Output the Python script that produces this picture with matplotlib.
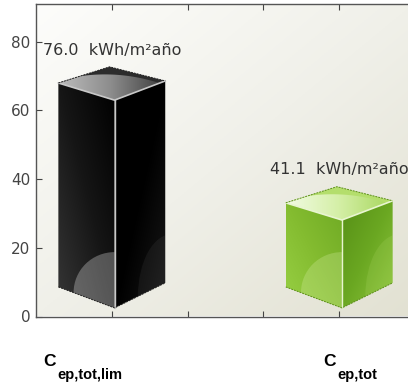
import numpy as np
import matplotlib
matplotlib.use("Agg")
import matplotlib.pyplot as plt
from matplotlib.colors import LinearSegmentedColormap
from matplotlib.patches import Polygon, Ellipse

# data
values = [76.0, 41.1]
positions = [0, 1]
sub_labels = ["ep,tot,lim", "ep,tot"]
unit = "kWh/m²año"
y_ticks = [0, 20, 40, 60, 80]
x_ticks = [0, 1 / 3, 2 / 3, 1]

BLACK = {
    "left": ["#000000", "#161616", "#363636"],
    "right": ["#000000", "#000000", "#181818"],
    "top": ["#bcbcbc", "#8c8c8c", "#3c3c3c"],
    "back": "#2c2c2c", "edge": "#c8c8c8", "rim": "#222222",
    "glow_left": "#ffffff", "glow_left_a": 0.28,
    "glow_right": "#ffffff", "glow_right_a": 0.05,
}
GREEN = {
    "left": ["#6faa24", "#84bc30", "#98d044"],
    "right": ["#568f16", "#6ba822", "#8fc63e"],
    "top": ["#f2fbe4", "#d4efa6", "#a6d65c"],
    "back": "#b4de6c", "edge": "#e8f5d0", "rim": "#5c8f18",
    "glow_left": "#e2f5b4", "glow_left_a": 0.25,
    "glow_right": "#c8ea80", "glow_right_a": 0.14,
}
STYLES = [BLACK, GREEN]

HALF_W = 0.235


def grad_face(ax, pts, colors, z, wx=0.0, wy=0.0):
    # polygon filled with a gradient, wx and wy say how it runs across and down
    pts = np.array(pts)
    cmap = LinearSegmentedColormap.from_list("f", colors)
    gx, gy = np.meshgrid(np.linspace(0, 1, 128), np.linspace(0, 1, 128))
    val = (1 - gx if wx < 0 else gx) * abs(wx) + gy * wy
    img = ax.imshow(val, cmap=cmap, aspect="auto", vmin=0, vmax=1,
                    extent=(pts[:, 0].min(), pts[:, 0].max(), pts[:, 1].min(), pts[:, 1].max()),
                    origin="upper", zorder=z, interpolation="bilinear")
    clip = Polygon(pts, closed=True, transform=ax.transData, fc="none", ec="none")
    ax.add_patch(clip)
    img.set_clip_path(clip)
    return clip


def draw_box(ax, x, v, st):
    xl, xr = x - HALF_W, x + HALF_W
    xf, xb = x + 0.012, x - 0.01
    back = (xb, v - 3.3)
    top_l = (xl, v - 8.0)
    top_r = (xr, v - 7.4)
    front = (xf, v - 13.0)
    bot_l = (xl, 8.6)
    bot_f = (xf, 2.5)
    bot_r = (xr, 9.8)

    left_clip = grad_face(ax, [top_l, front, bot_f, bot_l], st["left"], 3, wx=-0.5, wy=0.5)
    right_clip = grad_face(ax, [front, top_r, bot_r, bot_f], st["right"], 3, wx=0.5, wy=0.5)

    # top face: darker back, light shape with a curved upper side
    ax.add_patch(Polygon([top_l, back, top_r, front], fc=st["back"], ec="none", zorder=3))
    xs = np.linspace(xl, xr, 60)
    upper = np.minimum(np.interp(xs, [xl, xb, xr], [top_l[1], back[1], top_r[1]]),
                       v - 5.5 - 3.2 * ((xs - (x - 0.03)) / 0.27) ** 2)
    upper = np.maximum(upper, np.interp(xs, [xl, xf, xr], [top_l[1], front[1], top_r[1]]))
    lower = np.interp(xs, [xl, xf, xr], [top_l[1], front[1], top_r[1]])
    outline = np.r_[np.c_[xs, upper], np.c_[xs[::-1], lower[::-1]]]
    grad_face(ax, outline, st["top"], 3.1, wx=1.0)

    # rounded glow low on the side faces
    g1 = Ellipse((xf, 7), 0.36, 23.5, fc=st["glow_left"], ec="none",
                 alpha=st["glow_left_a"], zorder=3.2)
    g2 = Ellipse((xr + 0.03, 6), 0.3, 36, fc=st["glow_right"], ec="none",
                 alpha=st["glow_right_a"], zorder=3.2)
    ax.add_patch(g1)
    ax.add_patch(g2)
    g1.set_clip_path(left_clip)
    g2.set_clip_path(right_clip)

    # edges
    ax.plot([top_l[0], front[0], top_r[0]], [top_l[1], front[1], top_r[1]],
            color=st["edge"], lw=1.2, zorder=4, solid_joinstyle="miter")
    ax.plot([front[0], bot_f[0]], [front[1], bot_f[1]], color=st["edge"], lw=1.0, zorder=4)
    ax.plot([top_l[0], back[0], top_r[0]], [top_l[1], back[1], top_r[1]],
            color=st["rim"], lw=0.7, ls=(0, (2, 1)), zorder=4)
    ax.plot([bot_l[0], bot_f[0], bot_r[0]], [bot_l[1], bot_f[1], bot_r[1]],
            color=st["rim"], lw=0.7, ls=(0, (2, 1)), zorder=4)


fig = plt.figure(figsize=(4.08, 3.87), dpi=100, facecolor="white")
ax = fig.add_axes([36 / 408, (387 - 316.5) / 387, 379 / 408, 312.5 / 387])

# background, light in the upper left going beige to the lower right
bg_x, bg_y = np.meshgrid(np.linspace(0, 1, 200), np.linspace(0, 1, 200))
cmap_bg = LinearSegmentedColormap.from_list("bg", ["#fdfdfb", "#f0f0e9", "#e2e1d2"])
ax.imshow((bg_x * 0.5 + bg_y * 0.5), cmap=cmap_bg, aspect="auto", origin="upper",
          extent=(-1 / 3, 4 / 3, 0, 91), zorder=0)

for x, v, st in zip(positions, values, STYLES):
    draw_box(ax, x, v, st)
    ax.text(x, v + 1.6, f"{v:.1f}  {unit}", ha="center", va="center", fontsize=11.5,
            color="#333333", zorder=5, clip_on=False)

ax.set_xlim(-1 / 3, 4 / 3)
ax.set_ylim(0, 91)
ax.set_xticks(x_ticks)
ax.set_xticklabels([])
ax.set_yticks(y_ticks)
ax.tick_params(axis="both", direction="in", length=4, width=0.8, color="#444444",
               top=True, right=True, labelsize=11, labelcolor="#444444", pad=4)
for s in ax.spines.values():
    s.set_color("#555555")
    s.set_linewidth(1.0)
    s.set_zorder(6)

# category labels, a big C and a lowered subscript
for x, sub in zip(positions, sub_labels):
    px = 112 + 227 * x
    cx = px - 69 if x == 0 else px - 16
    fig.text(cx / 408, 1 - 362 / 387, "C", family="Liberation Sans", weight="bold",
             fontsize=12.5, ha="left", va="center", color="black")
    fig.text((cx + 14) / 408, 1 - 374.5 / 387, sub, family="Liberation Sans", weight="bold",
             fontsize=10.5, ha="left", va="center", color="black")

fig.savefig("out.png", dpi=100)
